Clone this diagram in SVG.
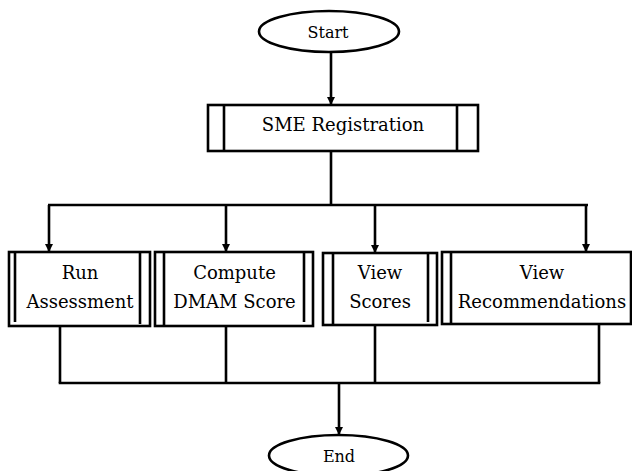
<svg xmlns="http://www.w3.org/2000/svg" width="632" height="471" viewBox="0 0 632 471">
  <style>
    .shape { fill: #ffffff; stroke: #000000; stroke-width: 2.6; }
    .bar { stroke: #000000; stroke-width: 2.6; fill: none; }
    .wire { stroke: #000000; stroke-width: 2.6; fill: none; }
    .label { font-family: "DejaVu Serif", "Liberation Serif", serif; font-size: 18px; fill: #000000; text-anchor: middle; }
    .term { font-family: "DejaVu Serif", "Liberation Serif", serif; font-size: 16px; fill: #000000; text-anchor: middle; }
  </style>
  <defs>
    <marker id="arrow" viewBox="0 0 10 10" refX="10" refY="5" markerWidth="8" markerHeight="8" markerUnits="userSpaceOnUse" orient="auto">
      <path d="M0,0 L10,5 L0,10 Z" fill="#000000"/>
    </marker>
  </defs>
  <rect width="632" height="471" fill="#ffffff"/>

  <!-- connectors -->
  <g id="connectors">
    <line class="wire" x1="331" y1="52" x2="331" y2="105" marker-end="url(#arrow)"/>
    <polyline class="wire" points="331,151 331,205"/>
    <line class="wire" x1="48" y1="205" x2="588" y2="205"/>
    <line class="wire" x1="49" y1="205" x2="49" y2="252" marker-end="url(#arrow)"/>
    <line class="wire" x1="226" y1="205" x2="226" y2="252" marker-end="url(#arrow)"/>
    <line class="wire" x1="375" y1="205" x2="375" y2="253" marker-end="url(#arrow)"/>
    <line class="wire" x1="586" y1="205" x2="586" y2="252" marker-end="url(#arrow)"/>
    <line class="wire" x1="60" y1="326" x2="60" y2="383"/>
    <line class="wire" x1="226" y1="326" x2="226" y2="383"/>
    <line class="wire" x1="375" y1="325" x2="375" y2="383"/>
    <line class="wire" x1="599" y1="324" x2="599" y2="383"/>
    <line class="wire" x1="58.7" y1="383" x2="600.3" y2="383"/>
    <line class="wire" x1="339" y1="383" x2="339" y2="435" marker-end="url(#arrow)"/>
  </g>

  <!-- terminators -->
  <g id="start">
    <ellipse class="shape" cx="329" cy="31.5" rx="70" ry="20.5"/>
    <text class="term" x="328" y="38">Start</text>
  </g>

  <g id="sme-registration">
    <rect class="shape" x="208" y="105" width="270" height="46"/>
    <line class="bar" x1="224" y1="105" x2="224" y2="151"/>
    <line class="bar" x1="457" y1="105" x2="457" y2="151"/>
    <text class="label" x="343" y="131">SME Registration</text>
  </g>

  <g id="run-assessment">
    <rect class="shape" x="9" y="252" width="141" height="74"/>
    <line class="bar" x1="15" y1="252" x2="15" y2="322"/>
    <line class="bar" x1="140" y1="252" x2="140" y2="324"/>
    <text class="label" x="80" y="279">Run</text>
    <text class="label" x="80" y="308">Assessment</text>
  </g>

  <g id="compute-dmam-score">
    <rect class="shape" x="155" y="252" width="158" height="74"/>
    <line class="bar" x1="164" y1="252" x2="164" y2="326"/>
    <line class="bar" x1="304" y1="252" x2="304" y2="322"/>
    <text class="label" x="234.5" y="279">Compute</text>
    <text class="label" x="234.5" y="308">DMAM Score</text>
  </g>

  <g id="view-scores">
    <rect class="shape" x="323" y="253" width="114" height="72"/>
    <line class="bar" x1="333" y1="253" x2="333" y2="325"/>
    <line class="bar" x1="428" y1="253" x2="428" y2="322"/>
    <text class="label" x="380" y="279">View</text>
    <text class="label" x="380" y="308">Scores</text>
  </g>

  <g id="view-recommendations">
    <rect class="shape" x="442" y="252" width="189" height="72"/>
    <line class="bar" x1="451" y1="252" x2="451" y2="324"/>
    <text class="label" x="542" y="279">View</text>
    <text class="label" x="542" y="308">Recommendations</text>
  </g>

  <g id="end">
    <ellipse class="shape" cx="338.5" cy="455.5" rx="69.5" ry="20.5"/>
    <text class="term" x="339" y="462">End</text>
  </g>
</svg>
